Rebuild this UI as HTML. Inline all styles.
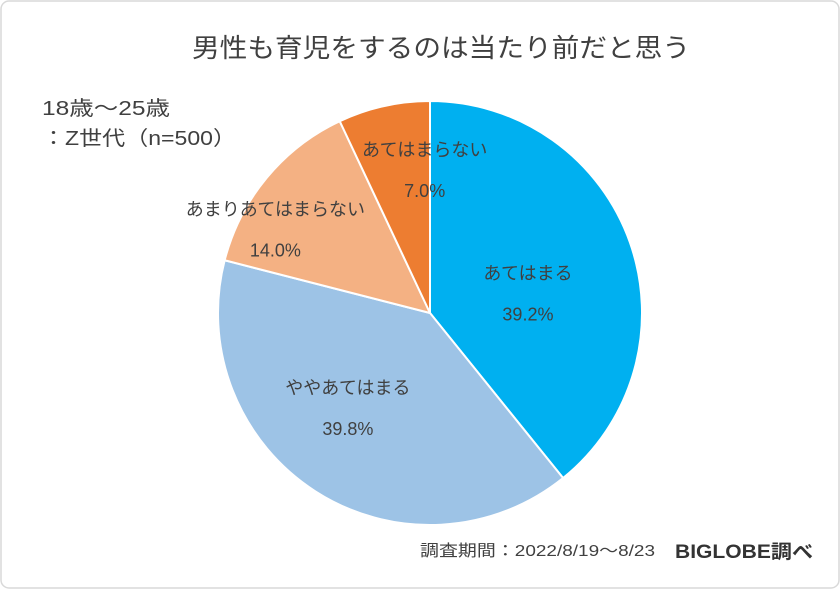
<!DOCTYPE html>
<html><head><meta charset="utf-8"><style>
body{margin:0;background:#fff;}
svg{display:block;font-family:"Liberation Sans","Noto Sans CJK JP",sans-serif;}
</style></head><body>
<svg id="c" width="840" height="589" viewBox="0 0 840 589">
<rect x="1" y="1" width="838" height="587" rx="8" fill="#fff" stroke="#d9d9d9" stroke-width="1.5"/>
<text x="192" y="57" font-size="26" fill="#404040" textLength="498" lengthAdjust="spacingAndGlyphs">男性も育児をするのは当たり前だと思う</text>
<text x="42" y="115" font-size="20" fill="#404040" textLength="128" lengthAdjust="spacingAndGlyphs">18歳～25歳</text>
<text x="42" y="145" font-size="20" fill="#404040" textLength="194" lengthAdjust="spacingAndGlyphs">：Z世代（n=500）</text>
<g id="slices"></g>
<g id="labels"></g>
<text x="420" y="556" font-size="16" fill="#404040" textLength="235" lengthAdjust="spacingAndGlyphs">調査期間：2022/8/19～8/23</text>
<text x="675" y="558" font-size="19" font-weight="bold" fill="#333" textLength="138" lengthAdjust="spacingAndGlyphs">BIGLOBE調べ</text>
</svg>
<script>
const categories=["あてはまる","ややあてはまる","あまりあてはまらない","あてはまらない"];
const values=[39.2,39.8,14.0,7.0];
const colors=["#00B0F0","#9DC3E6","#F4B183","#ED7D31"];
const cx=430,cy=313,r=212;
const NS="http://www.w3.org/2000/svg";
const total=values.reduce((a,b)=>a+b,0);
const sg=document.getElementById('slices'),lg=document.getElementById('labels');
let a0=0;
const lr=[0.5,0.55,0.72,0.72];
const off=[[-2,16],[-19,-3],[-37,14],[28,6]];
values.forEach((v,i)=>{
  const a1=a0+v/total*2*Math.PI;
  const p=(a)=>[cx+r*Math.sin(a),cy-r*Math.cos(a)];
  const [x0,y0]=p(a0),[x1,y1]=p(a1);
  const path=document.createElementNS(NS,'path');
  path.setAttribute('d',`M${cx},${cy}L${x0},${y0}A${r},${r} 0 ${a1-a0>Math.PI?1:0} 1 ${x1},${y1}Z`);
  path.setAttribute('fill',colors[i]);path.setAttribute('stroke','#fff');path.setAttribute('stroke-width','2');
  
  
  sg.appendChild(path);
  const am=(a0+a1)/2,rr=r*lr[i];
  const lx=cx+rr*Math.sin(am)+off[i][0],ly=cy-rr*Math.cos(am)+off[i][1];
  const t1=document.createElementNS(NS,'text');
  t1.setAttribute('x',lx);t1.setAttribute('y',ly-14);t1.setAttribute('text-anchor','middle');
  t1.setAttribute('font-size','18');t1.setAttribute('fill','#404040');t1.textContent=categories[i];
  
  
  lg.appendChild(t1);
  const t2=document.createElementNS(NS,'text');
  t2.setAttribute('x',lx);t2.setAttribute('y',ly+27);t2.setAttribute('text-anchor','middle');
  t2.setAttribute('font-size','18');t2.setAttribute('fill','#404040');t2.textContent=v.toFixed(1)+'%';
  
  
  lg.appendChild(t2);
  a0=a1;
});
</script>
</body></html>
